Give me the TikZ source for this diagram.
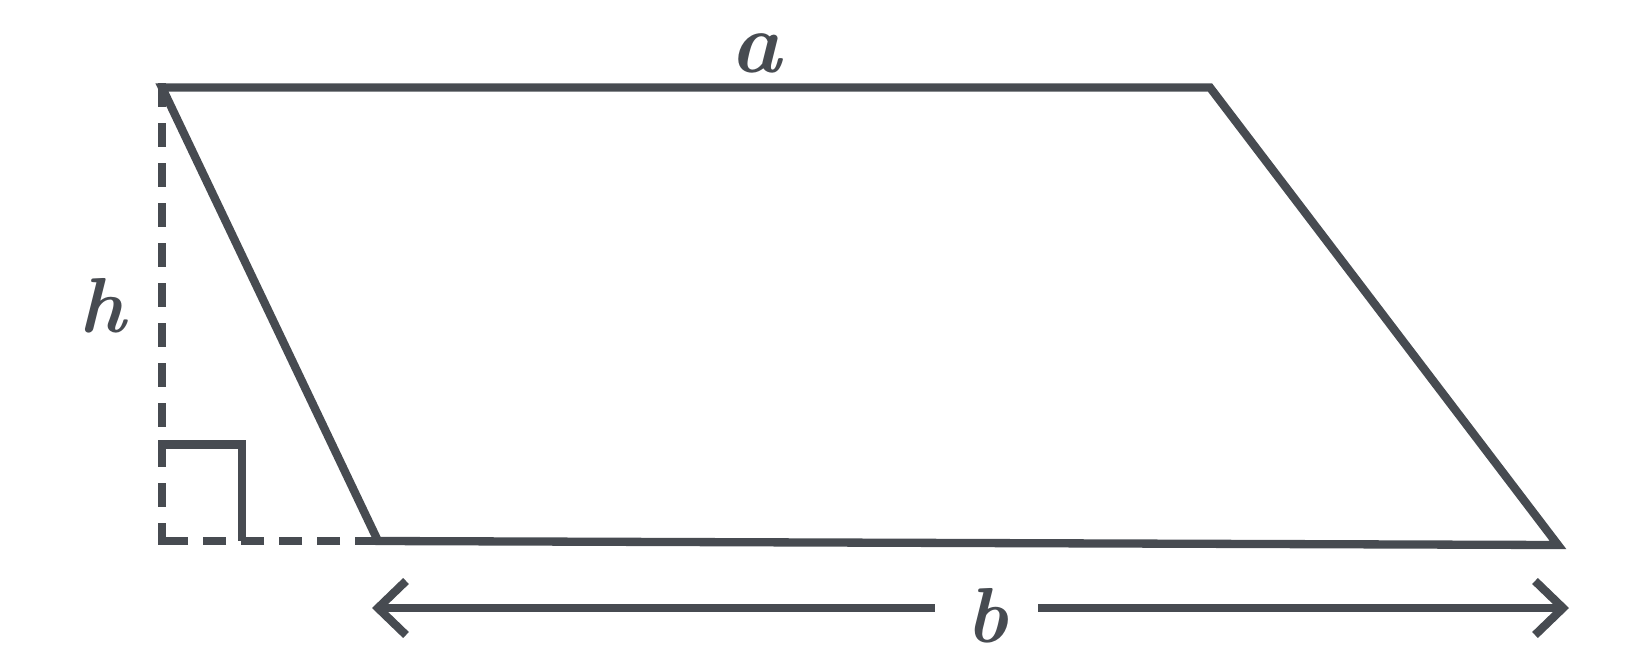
\documentclass[tikz,border=0pt]{standalone}
\usepackage{tikz}
\definecolor{ink}{HTML}{474B51}
\begin{document}
\begin{tikzpicture}[x=1pt,y=-1pt,
  edge/.style={draw=ink,line width=8.3pt,line join=miter},
  hdash/.style={draw=ink,line width=8.3pt,dash pattern=on 23pt off 15pt},
  vdash/.style={draw=ink,line width=8.3pt,dash pattern=on 24pt off 16pt},
  lbl/.style={text=ink,inner sep=0pt,anchor=base,font=\fontsize{78}{90}\selectfont\bfseries\itshape}]
\useasboundingbox (0,0) rectangle (1643,656);
% vertices
\coordinate (TL) at (162,87.5);
\coordinate (TR) at (1210,87.5);
\coordinate (BR) at (1558,545);
\coordinate (BL) at (378,541);
% height foot
\coordinate (Htop) at (162,83);
\coordinate (Hfoot) at (162,545);
\coordinate (Dleft) at (158,541);
% right angle mark
\coordinate (Ra) at (158,444.5);
\coordinate (Rb) at (242,444.5);
\coordinate (Rc) at (242,541);
% parallelogram
\draw[edge] (TL) -- (TR) -- (BR) -- (BL) -- cycle;
% dashed height and extension
\draw[vdash] (Htop) -- (Hfoot);
\draw[hdash] (BL) -- (Dleft);
\draw[edge] (Ra) -- (Rb) -- (Rc);
% b arrow
\coordinate (Ltip) at (378,608);
\coordinate (Lu) at (406,581);
\coordinate (Ld) at (406,635);
\coordinate (Lend) at (935,608);
\coordinate (Rstart) at (1038,608);
\coordinate (Rtip) at (1563,608);
\coordinate (Ru) at (1535,581);
\coordinate (Rd) at (1535,635);
\draw[edge] (Ltip) -- (Lend);
\draw[edge] (Rstart) -- (Rtip);
\draw[edge] (Lu) -- (Ltip) -- (Ld);
\draw[edge] (Ru) -- (Rtip) -- (Rd);
% labels
\node[lbl,font=\fontsize{86}{100}\selectfont\bfseries\itshape] (la) at (756,72) {a};
\node[lbl] (lh) at (103,332) {h};
\node[lbl] (lb) at (987,642) {b};
\end{tikzpicture}
\end{document}
